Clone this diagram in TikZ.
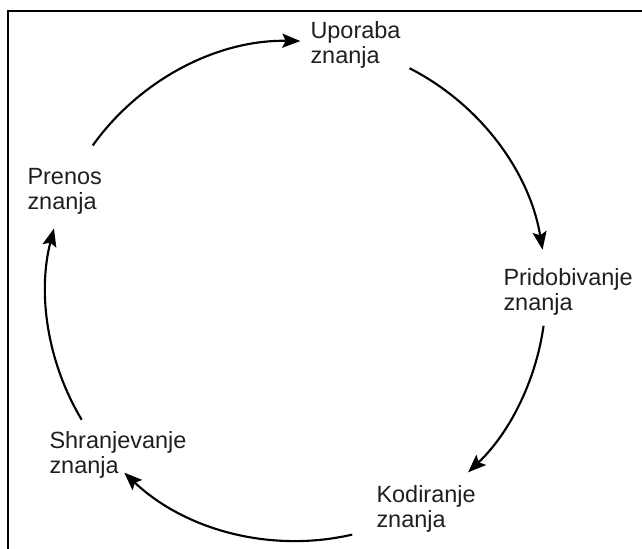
\documentclass[tikz,border=0pt]{standalone}
\usepackage{fontspec}
\setmainfont{Liberation Sans}
\usetikzlibrary{arrows.meta}

\tikzset{every picture/.style={line width=0.75pt}}
\tikzset{
  cyclearc/.style={line width=1.6pt, -{Stealth[length=13.5pt,width=10.5pt,inset=2.5pt]}},
  phase/.style={anchor=north west, inner sep=0.75pt, align=left, text=black!88,
    font=\fontsize{17.6}{18.8}\selectfont}
}

\begin{document}
\begin{tikzpicture}[x=0.75pt,y=0.75pt,yscale=-1,xscale=1]
	\useasboundingbox (0,0) rectangle (642,549);
	
	%Shape: Frame (left and top edge)
	\draw [line width=1.5pt]  (8,549) -- (8,11) -- (642,11) ;
	
	% Text Node
	\node [phase] (upo) at (309,20) {Uporaba\\znanja};
	% Text Node
	\node [phase] (prid) at (502,267) {Pridobivanje\\znanja};
	% Text Node
	\node [phase] (kod) at (375,484) {Kodiranje\\znanja};
	% Text Node
	\node [phase] (shr) at (48,430) {Shranjevanje\\znanja};
	% Text Node
	\node [phase] (pre) at (26,167) {Prenos\\znanja};
	
	%Shape: Centre of the cycle
	\coordinate (hub) at (296,291);
	
	% Arc: Prenos -> Uporaba
	\draw [cyclearc] (hub) ++(-144.4:250) coordinate (preOut) arc [start angle=-144.4, end angle=-89, radius=250] coordinate (upoIn) ;
	% Arc: Uporaba -> Pridobivanje
	\draw [cyclearc] (hub) ++(-63:250) coordinate (upoOut) arc [start angle=-63, end angle=-9.5, radius=250] coordinate (pridIn) ;
	% Arc: Pridobivanje -> Kodiranje
	\draw [cyclearc] (hub) ++(8:250) coordinate (pridOut) arc [start angle=8, end angle=46.5, radius=250] coordinate (kodIn) ;
	% Arc: Kodiranje -> Shranjevanje
	\draw [cyclearc] (hub) ++(77:250) coordinate (kodOut) arc [start angle=77, end angle=133.4, radius=250] coordinate (shrIn) ;
	% Arc: Shranjevanje -> Prenos
	\draw [cyclearc] (hub) ++(149:250) coordinate (shrOut) arc [start angle=149, end angle=194.5, radius=250] coordinate (preIn) ;
	
\end{tikzpicture}
\end{document}
